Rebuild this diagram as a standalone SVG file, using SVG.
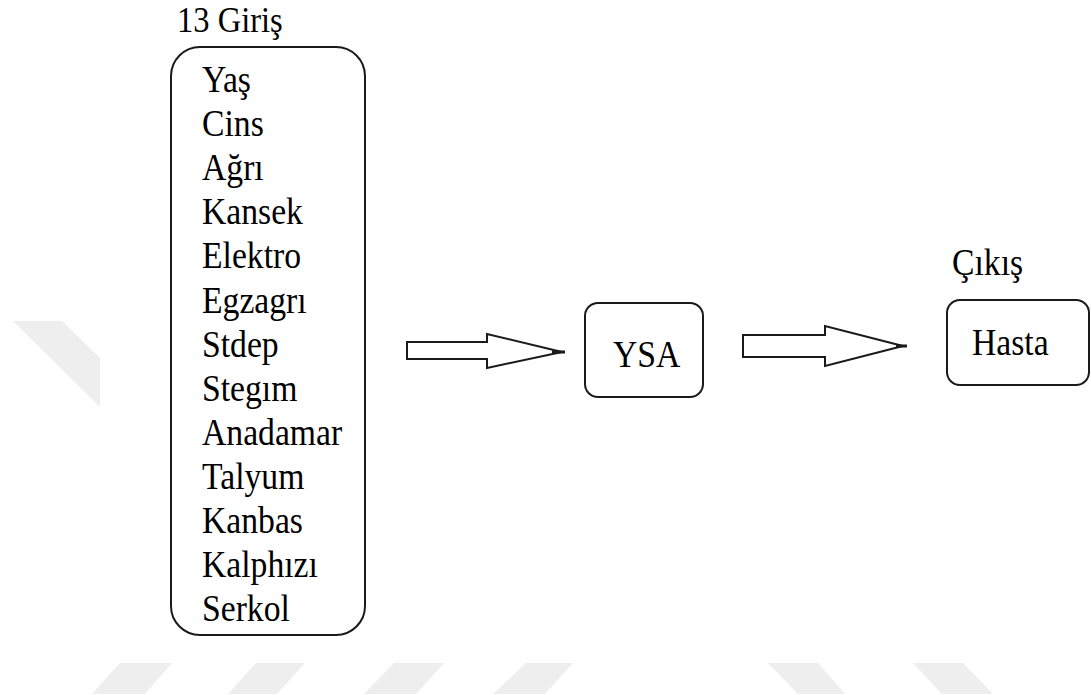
<svg xmlns="http://www.w3.org/2000/svg" width="1091" height="695" viewBox="0 0 1091 695">
  <style>
    .lbl { font-family: 'Liberation Serif', Tinos, 'Times New Roman', 'DejaVu Serif', serif; font-size: 37px; fill: #000; }
    .box { fill: #fff; stroke: #1a1a1a; stroke-width: 2; }
    .arrow { fill: #fff; stroke: #1a1a1a; stroke-width: 2; stroke-linejoin: miter; }
    .tip { stroke: #1a1a1a; stroke-width: 3; }
    .mark { fill: #eeeeee; }
  </style>
  <rect width="1091" height="695" fill="#fff"/>

  <!-- faint background stripes -->
  <g id="background">
    <polygon class="mark" points="13,321 62,321 100,358 100,407"/>
    <polygon class="mark" points="120,663 172,663 145,694 92,694"/>
    <polygon class="mark" points="256,663 305,663 277,694 228,694"/>
    <polygon class="mark" points="394,663 444,663 416,694 364,694"/>
    <polygon class="mark" points="526,663 573,663 545,694 493,694"/>
    <polygon class="mark" points="768,663 818,663 845,694 798,694"/>
    <polygon class="mark" points="913,663 963,663 993,694 942,694"/>
  </g>

  <!-- input list -->
  <g id="inputs">
    <text class="lbl" style="font-size:35px" transform="translate(177,32) scale(0.93,1)">13 Giriş</text>
    <rect class="box" x="171" y="47" width="194" height="588" rx="29" ry="29"/>
    <text class="lbl" transform="translate(202,92) scale(0.91,1)">Yaş</text>
    <text class="lbl" transform="translate(202,136.1) scale(0.91,1)">Cins</text>
    <text class="lbl" transform="translate(202,180.2) scale(0.91,1)">Ağrı</text>
    <text class="lbl" transform="translate(202,224.3) scale(0.91,1)">Kansek</text>
    <text class="lbl" transform="translate(202,268.4) scale(0.91,1)">Elektro</text>
    <text class="lbl" transform="translate(202,312.5) scale(0.91,1)">Egzagrı</text>
    <text class="lbl" transform="translate(202,356.6) scale(0.91,1)">Stdep</text>
    <text class="lbl" transform="translate(202,400.7) scale(0.91,1)">Stegım</text>
    <text class="lbl" transform="translate(202,444.8) scale(0.91,1)">Anadamar</text>
    <text class="lbl" transform="translate(202,488.9) scale(0.91,1)">Talyum</text>
    <text class="lbl" transform="translate(202,533) scale(0.91,1)">Kanbas</text>
    <text class="lbl" transform="translate(202,577.1) scale(0.91,1)">Kalphızı</text>
    <text class="lbl" transform="translate(202,621.2) scale(0.91,1)">Serkol</text>
  </g>

  <!-- network -->
  <g id="ysa">
    <rect class="box" x="585" y="303" width="118" height="94" rx="13" ry="13"/>
    <text class="lbl" transform="translate(613,367) scale(0.91,1)">YSA</text>
  </g>

  <!-- output -->
  <g id="output">
    <text class="lbl" transform="translate(952,275) scale(0.91,1)">Çıkış</text>
    <rect class="box" x="947" y="300" width="142" height="85" rx="13" ry="13"/>
    <text class="lbl" transform="translate(972,355) scale(0.91,1)">Hasta</text>
  </g>

  <!-- block arrows -->
  <g id="connectors">
    <polygon class="arrow" points="407,342 487,342 487,334 562,352 487,368 487,359 407,359"/>
    <line class="tip" x1="552" y1="352" x2="565" y2="352"/>
    <polygon class="arrow" points="743,335 825,335 825,326 903,346 825,366 825,357 743,357"/>
    <line class="tip" x1="896" y1="346" x2="907" y2="346"/>
  </g>
</svg>
